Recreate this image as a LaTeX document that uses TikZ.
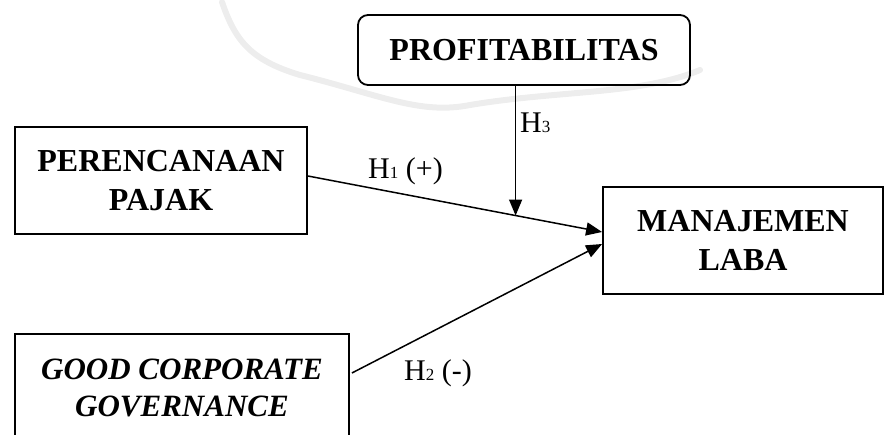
\documentclass[tikz,border=0pt]{standalone}
\usepackage{fontspec}
\setmainfont{Liberation Serif}
\usetikzlibrary{arrows.meta}
\begin{document}
\begin{tikzpicture}[x=1pt,y=-1pt,
  boxstyle/.style={draw, line width=1.8pt, align=center, inner sep=0pt,
    font=\fontsize{32}{39}\selectfont\bfseries},
  conn/.style={line width=1.5pt, -{Triangle[length=16pt,width=13pt]}},
  hlabel/.style={anchor=base west, inner sep=0pt, font=\fontsize{30}{32}\selectfont},
  wm/.style={draw=black!7, line width=6pt, line cap=round}
]
\useasboundingbox (0,0) rectangle (884,434);
% faint watermark ribbon
\draw[wm] (222,2) .. controls (235,40) and (250,60) .. (300,75)
  .. controls (380,95) and (420,115) .. (470,105)
  .. controls (560,90) and (640,95) .. (700,70);

\node[boxstyle, rounded corners=10pt, minimum width=332pt, minimum height=70pt,
  font=\fontsize{32}{36}\selectfont\bfseries] (prof) at (524,50) {PROFITABILITAS};
\node[boxstyle, minimum width=292pt, minimum height=107pt] (pp) at (161,180.5)
  {PERENCANAAN\\PAJAK};
\node[boxstyle, minimum width=280pt, minimum height=107pt] (ml) at (743,240.5)
  {MANAJEMEN\\LABA};
\node[boxstyle, minimum width=334pt, minimum height=107pt,
  font=\fontsize{31}{37}\selectfont\bfseries\itshape] (gcg) at (182,387.5)
  {GOOD CORPORATE\\GOVERNANCE};

\coordinate (pps) at ([yshift=4.5pt]pp.east);
\coordinate (gcs) at ([xshift=2pt,yshift=14.5pt]gcg.east);
\coordinate (mlt1) at ([yshift=8.5pt]ml.west);
\coordinate (mlt2) at ([yshift=-3.5pt]ml.west);

\draw[conn] (pps) -- coordinate[pos=0.706] (mid) (mlt1);
\draw[conn] (gcs) -- (mlt2);
\draw[conn] (mid |- prof.south) -- (mid);

\node[hlabel] (h1) at (368,178) {H\raisebox{0pt}{\fontsize{17}{17}\selectfont 1} (+)};
\node[hlabel] (h3) at (520,132) {H\raisebox{0pt}{\fontsize{17}{17}\selectfont 3}};
\node[hlabel] (h2) at (404,380) {H\raisebox{0pt}{\fontsize{17}{17}\selectfont 2} (-)};
\end{tikzpicture}
\end{document}
